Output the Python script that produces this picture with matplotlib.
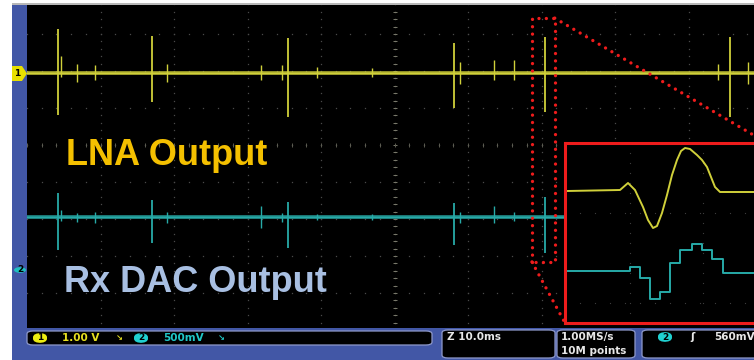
import numpy as np
import matplotlib
matplotlib.use("Agg")
import matplotlib.pyplot as plt
from matplotlib.patches import Rectangle, FancyBboxPatch, Polygon, Circle, ConnectionPatch

W, H = 754, 360

# --- long capture: 10 ms/div, levels in divisions -----------------------
ch1_level = 1.95
ch2_level = -1.95

# large bursts seen on both channels (time in ms, excursion in div)
burst_t = [4.2, 17.0, 35.5, 58.1, 70.5, 95.6]
ch1_up = [1.19, 1.00, 0.95, 0.81, 0.97, 0.97]
ch1_dn = [1.14, 0.78, 1.19, 0.95, 1.05, 1.19]
ch2_up = [0.65, 0.46, 0.41, 0.38, 0.54, 0.40]
ch2_dn = [0.89, 0.70, 0.84, 0.76, 0.97, 0.60]

# small glitches on the baseline
blip_t = [4.6, 6.8, 9.3, 19.0, 31.9, 34.7, 39.5, 46.9, 58.9, 63.5, 66.3, 94.0, 98.1]
blip1_up = [0.45, 0.25, 0.20, 0.25, 0.20, 0.20, 0.15, 0.12, 0.30, 0.35, 0.35, 0.25, 0.30]
blip1_dn = [0.10, 0.25, 0.20, 0.25, 0.20, 0.20, 0.15, 0.12, 0.30, 0.20, 0.20, 0.20, 0.30]
blip2_up = [0.20, 0.12, 0.15, 0.15, 0.30, 0.12, 0.08, 0.08, 0.15, 0.30, 0.15, 0.12, 0.15]
blip2_dn = [0.10, 0.12, 0.15, 0.15, 0.30, 0.12, 0.08, 0.08, 0.15, 0.15, 0.10, 0.10, 0.15]

# zoom window on the long capture (ms, div)
zoom_t = [68.7, 71.8]
zoom_y = [-3.16, 3.43]

# --- zoomed view -------------------------------------------------------
lna_t = [0.2, 5.5, 6.3, 7.0, 7.8, 8.3, 8.8, 9.2, 9.7, 10.2, 10.7, 11.2, 11.6,
         12.0, 12.5, 13.2, 13.7, 14.2, 14.6, 15.0, 15.5, 18.9, 20.2]
lna_v = [13.2, 13.3, 14.0, 13.3, 11.6, 10.3, 9.5, 9.7, 11.0, 12.8, 14.8, 16.3, 17.2,
         17.5, 17.4, 16.8, 16.3, 15.6, 14.6, 13.6, 13.1, 13.1, 13.1]

dac_t = [0.2, 6.5, 7.5, 8.5, 9.5, 10.5, 11.5, 12.7, 13.7, 14.7, 15.8, 20.2]
dac_v = [5.2, 5.6, 4.5, 2.4, 3.1, 6.0, 7.3, 7.9, 7.3, 6.4, 5.0, 5.0]

YEL = "#d0d03a"
CYN = "#27aaa8"
RED = "#ee1c1c"
BLUE = "#4257a6"


def fx(x):
    return x / W


def fy(y):
    return 1 - y / H


fig = plt.figure(figsize=(W / 100, H / 100), dpi=100)
fig.patch.set_facecolor("white")

# frame around the screen
fig.add_artist(Rectangle((fx(12), fy(360)), fx(754 - 12), 360 / H - 5 / H,
                         transform=fig.transFigure, facecolor=BLUE, edgecolor="none",
                         zorder=-5))
fig.add_artist(Rectangle((fx(12), fy(4.5)), fx(742), 1.2 / H,
                         transform=fig.transFigure, facecolor="#b8b8b8", edgecolor="none",
                         zorder=-5))

# main screen
ax = fig.add_axes([fx(27), fy(328), fx(754 - 27), (328 - 5) / H])
ax.set_facecolor("black")
ax.set_xlim(0, (754 - 27) / 7.35)
ax.set_ylim((145 - 328) / 37, (145 - 5) / 37)
ax.set_xticks([])
ax.set_yticks([])
for s in ax.spines.values():
    s.set_visible(False)

# graticule
ys = np.arange(-5, 4.01, 0.2)
xs = np.arange(0, 100.1, 2)
for t in range(10, 100, 10):
    c = "#8a8a7a" if t == 50 else "#4a4a4a"
    ax.plot(np.full(len(ys), t), ys, ls="none", marker="s", ms=0.9, mew=0, color=c)
for y in range(-5, 4):
    c = "#77776a" if y == 0 else "#4a4a4a"
    ax.plot(xs, np.full(len(xs), y), ls="none", marker="s", ms=0.9, mew=0, color=c)
ax.plot(np.full(len(ys), 50), ys, ls="none", marker="_", ms=3.0, mew=0.7, color="#7a7a6c")
ax.plot(xs, np.zeros(len(xs)), ls="none", marker="|", ms=3.0, mew=0.7, color="#5c5c52")

# channel traces
for lvl, col, up, dn, bu, bd in [(ch1_level, YEL, ch1_up, ch1_dn, blip1_up, blip1_dn),
                                 (ch2_level, CYN, ch2_up, ch2_dn, blip2_up, blip2_dn)]:
    ax.axhline(lvl, color=col, lw=2.6, alpha=0.85)
    ax.axhline(lvl, color=col, lw=1.0)
    ax.vlines(burst_t, lvl - np.array(dn), lvl + np.array(up), color=col, lw=1.3)
    ax.vlines(blip_t, lvl - np.array(bd), lvl + np.array(bu), color=col, lw=1.0)

# zoom window outline
dot = dict(color=RED, lw=2.4, ls=(0, (0.01, 2.2)))
ax.plot([zoom_t[0], zoom_t[0], zoom_t[1], zoom_t[1], zoom_t[0]],
        [zoom_y[0], zoom_y[1], zoom_y[1], zoom_y[0], zoom_y[0]],
        dash_capstyle="round", **dot)

# zoomed view
ins = fig.add_axes([fx(565), fy(323), 202 / W, 180 / H], zorder=3)
ins.set_facecolor("black")
ins.set_xlim(0, 20.2)
ins.set_ylim(0, 18)
ins.set_xticks([])
ins.set_yticks([])
for s in ins.spines.values():
    s.set_color(RED)
    s.set_linewidth(2.2)
for t in [6.5, 13.8]:
    ins.plot(np.full(19, t), np.arange(0, 18.1, 1.0), ls="none", marker="s", ms=0.8,
             mew=0, color="#3c3c3c")
for y in [2.0, 11.0]:
    ins.plot(np.arange(0, 20.3, 1.5), np.full(14, y), ls="none", marker="s", ms=0.8,
             mew=0, color="#3c3c3c")
ins.plot(lna_t, lna_v, color=YEL, lw=1.4)
ins.step(dac_t, dac_v, where="post", color=CYN, lw=1.4)

for a, b in [((zoom_t[1], zoom_y[1]), (1, 1)), ((zoom_t[0], zoom_y[0]), (0, 0))]:
    fig.add_artist(ConnectionPatch(xyA=a, coordsA=ax.transData, xyB=b,
                                   coordsB=ins.transAxes, capstyle="round",
                                   zorder=2, **dot))

# labels on the screen
fig.text(fx(66), fy(165), "LNA Output", color="#f4c000", fontsize=26,
         fontweight="bold", family="Liberation Sans", va="baseline", zorder=4)
fig.text(fx(64), fy(292), "Rx DAC Output", color="#a8bfe2", fontsize=26,
         fontweight="bold", family="Liberation Sans", va="baseline", zorder=4)

# channel ground markers
fig.add_artist(Polygon([[fx(12), fy(66)], [fx(22), fy(66)], [fx(27), fy(73.5)],
                        [fx(22), fy(81)], [fx(12), fy(81)]], closed=True,
                       transform=fig.transFigure, facecolor="#e8e000", edgecolor="none"))
fig.text(fx(17), fy(73.5), "1", fontsize=6.5, color="black", ha="center", va="center",
         fontweight="bold")
fig.add_artist(Circle((fx(20), fy(270)), 6 / W, transform=fig.transFigure,
                      facecolor="#20c0c0", edgecolor="none"))
fig.text(fx(20), fy(270), "2", fontsize=6.5, color="black", ha="center", va="center",
         fontweight="bold")

# status bar
boxes = [(27, 331, 405, 14), (442, 330, 113, 28), (557, 330, 78, 28), (642, 330, 130, 28)]
for x0, y0, w, h in boxes:
    fig.add_artist(FancyBboxPatch((fx(x0), fy(y0 + h)), w / W, h / H,
                                  boxstyle="round,pad=0,rounding_size=0.008",
                                  transform=fig.transFigure, facecolor="black",
                                  edgecolor="#8f9acb", lw=0.9))

stat = dict(fontsize=7.5, fontweight="bold", family="DejaVu Sans", va="center")
for cx, num, col in [(40, "1", "#ecec10"), (141, "2", "#20d0d0"), (665, "2", "#20d0d0")]:
    fig.add_artist(FancyBboxPatch((fx(cx - 7), fy(343 if cx < 400 else 342)), 14 / W, 10 / H,
                                  boxstyle="round,pad=0,rounding_size=0.012",
                                  transform=fig.transFigure, facecolor=col, edgecolor="none"))
    fig.text(fx(cx), fy(338 if cx < 400 else 337), num, color="black", ha="center",
             **{**stat, "fontsize": 6.5})
fig.text(fx(62), fy(338), "1.00 V", color="#e8e020", **stat)
fig.text(fx(116), fy(338), "\u2198", color="#e8e020", **{**stat, "fontsize": 6})
fig.text(fx(163), fy(338), "500mV", color="#20c8c8", **stat)
fig.text(fx(218), fy(338), "\u2198", color="#20c8c8", **{**stat, "fontsize": 6})
fig.text(fx(447), fy(337), "Z 10.0ms", color="#e8e8e8", **stat)
fig.text(fx(561), fy(337), "1.00MS/s", color="#e8e8e8", **stat)
fig.text(fx(561), fy(351), "10M points", color="#e8e8e8", **stat)
fig.text(fx(690), fy(337), "\u0283", color="#e8e8e8", **stat)
fig.text(fx(714), fy(337), "560mV", color="#e8e8e8", **stat)

fig.savefig("out.png", dpi=100)
